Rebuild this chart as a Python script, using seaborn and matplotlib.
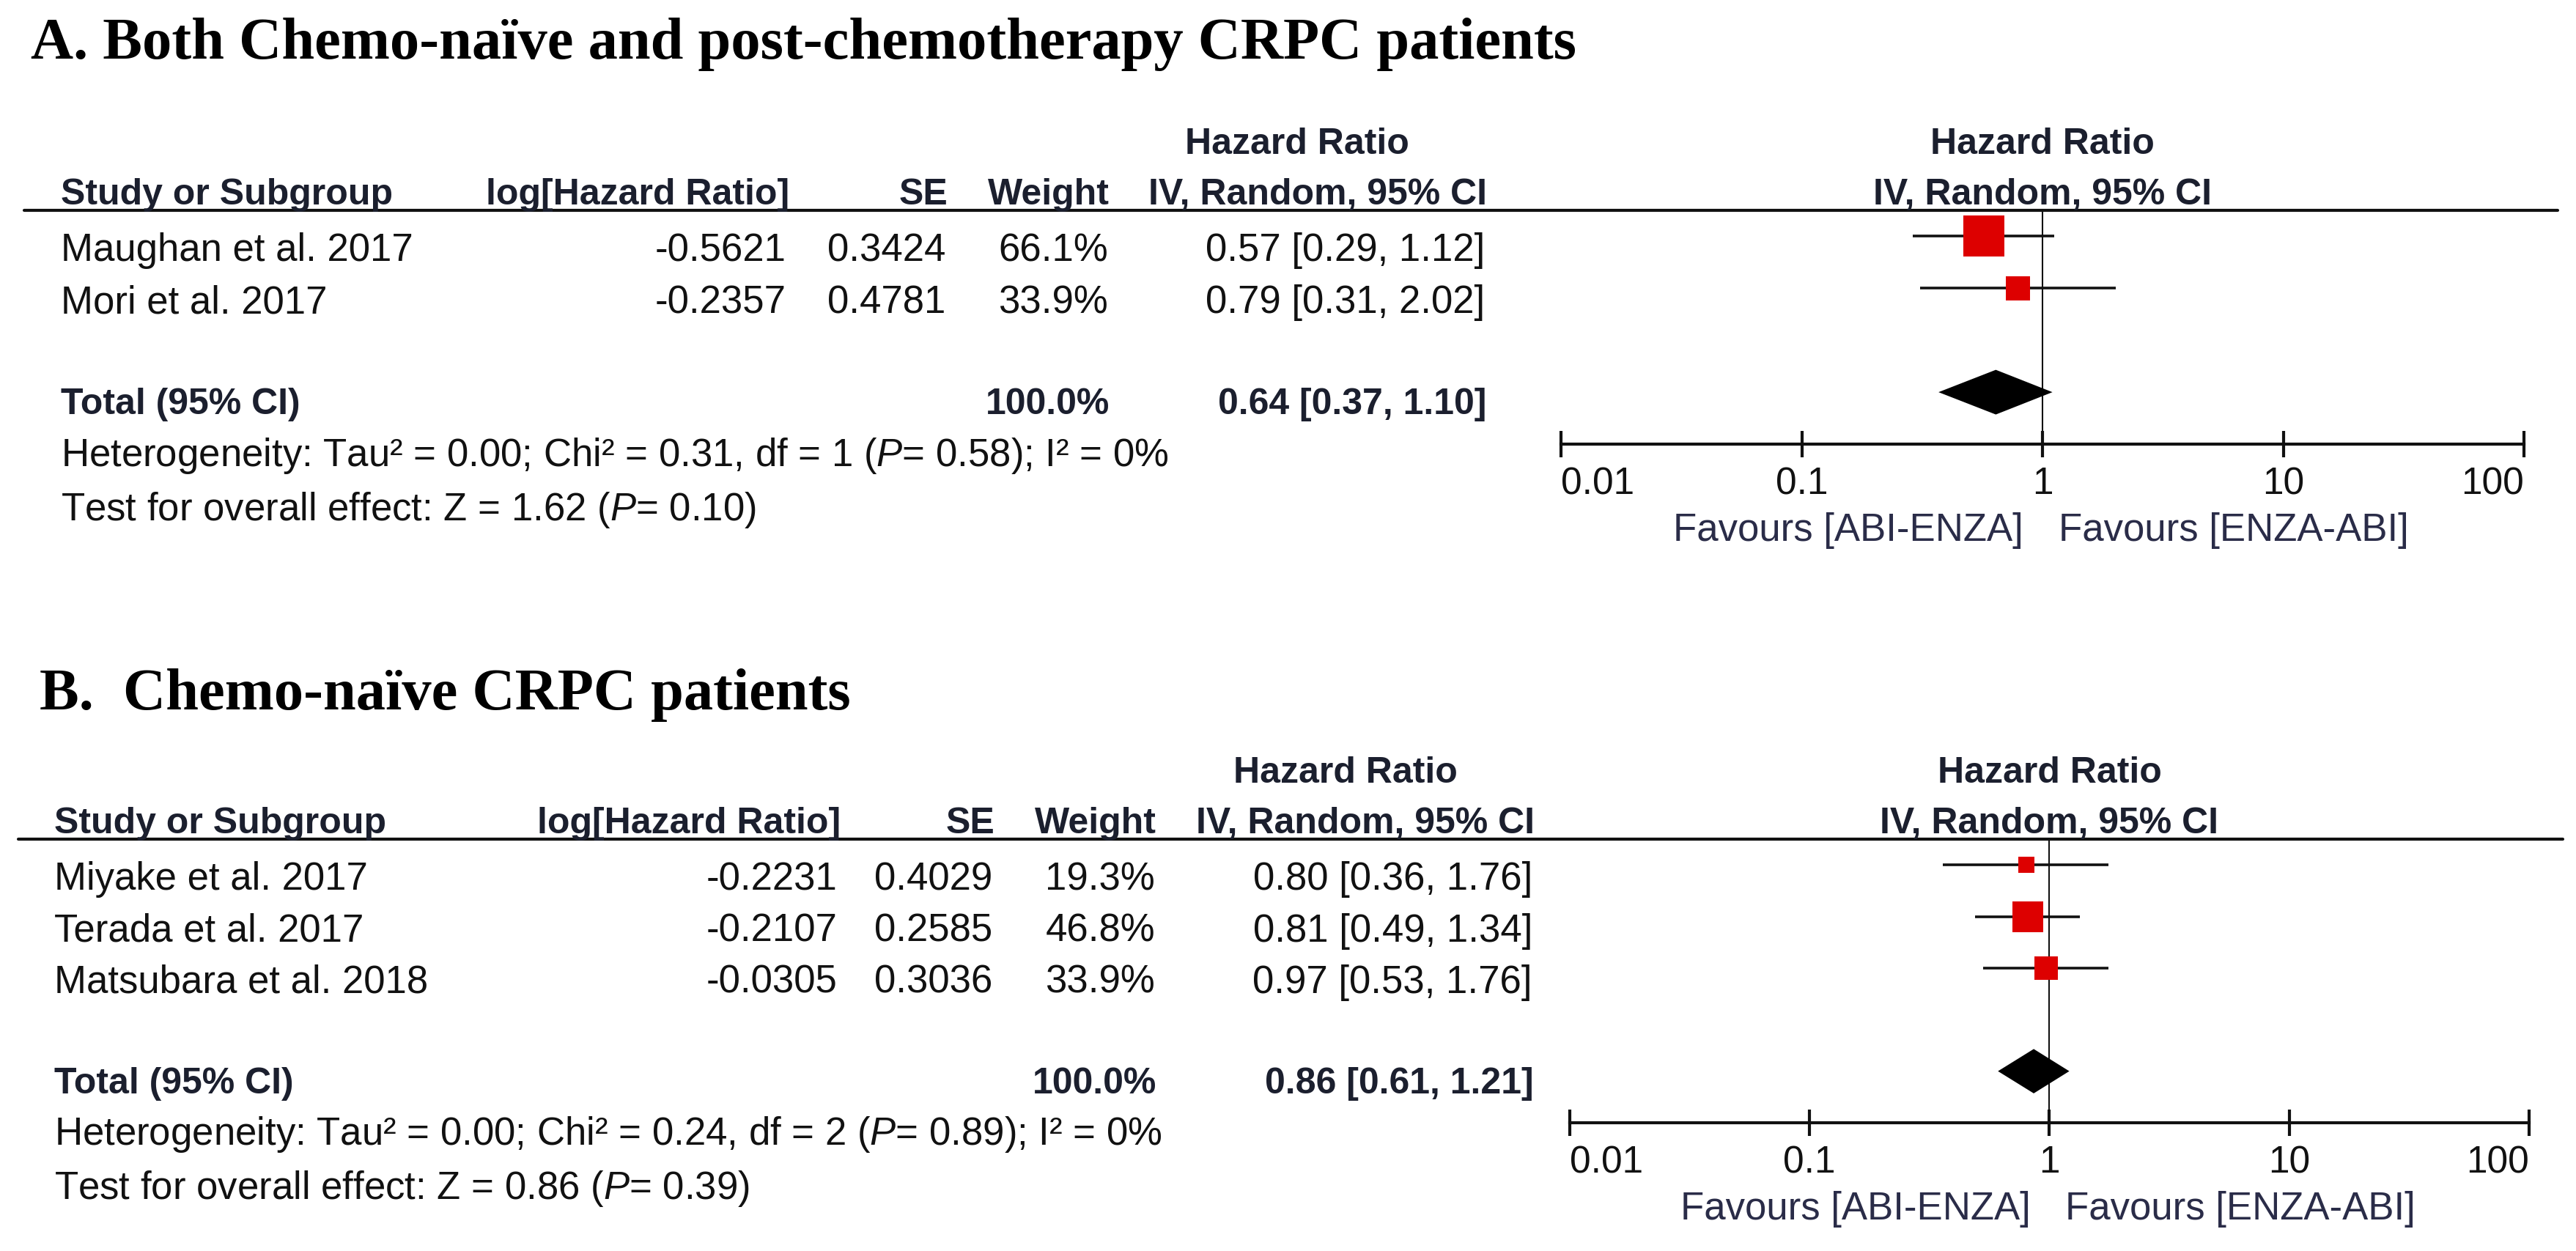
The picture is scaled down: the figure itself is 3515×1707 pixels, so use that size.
import matplotlib
matplotlib.use("Agg")
import numpy as np
import pandas as pd
import matplotlib.pyplot as plt
import seaborn as sns

# ---- data: panel A (chemo-naive + post-chemo) ----
studies_a = ["Maughan et al. 2017", "Mori et al. 2017"]
log_hr_a = [-0.5621, -0.2357]
se_a = [0.3424, 0.4781]
weight_a = [66.1, 33.9]
hr_a = [0.57, 0.79]
ci_low_a = [0.29, 0.31]
ci_high_a = [1.12, 2.02]
total_a = [0.64, 0.37, 1.10]
het_a = "Heterogeneity: Tau² = 0.00; Chi² = 0.31, df = 1 ($P$= 0.58); I² = 0%"
effect_a = "Test for overall effect: Z = 1.62 ($P$= 0.10)"

# ---- data: panel B (chemo-naive) ----
studies_b = ["Miyake et al. 2017", "Terada et al. 2017", "Matsubara et al. 2018"]
log_hr_b = [-0.2231, -0.2107, -0.0305]
se_b = [0.4029, 0.2585, 0.3036]
weight_b = [19.3, 46.8, 33.9]
hr_b = [0.80, 0.81, 0.97]
ci_low_b = [0.36, 0.49, 0.53]
ci_high_b = [1.76, 1.34, 1.76]
total_b = [0.86, 0.61, 1.21]
het_b = "Heterogeneity: Tau² = 0.00; Chi² = 0.24, df = 2 ($P$= 0.89); I² = 0%"
effect_b = "Test for overall effect: Z = 0.86 ($P$= 0.39)"

axis_ticks = [0.01, 0.1, 1, 10, 100]
tick_labels = ["0.01", "0.1", "1", "10", "100"]
favours = ["Favours [ABI-ENZA]", "Favours [ENZA-ABI]"]
titles = ["A. Both Chemo-naïve and post-chemotherapy CRPC patients",
          "B.  Chemo-naïve CRPC patients"]

W, H = 3516, 1708
RED = "#dd0000"
TXT = "#111111"
HEAD = "#1b1f2e"
FAV = "#2a2c48"

sns.set_theme(style="white")
plt.rcParams["font.family"] = ["Liberation Sans", "DejaVu Sans"]
plt.rcParams["mathtext.fontset"] = "custom"
plt.rcParams["mathtext.rm"] = "Liberation Sans"
plt.rcParams["mathtext.it"] = "Liberation Sans:italic"

# pixel layout for each panel
layout_a = dict(title_x=42, title_y=80, head_y=288, axis_y=607, line_x0=33, line_x1=3490,
                study_x=83, loghr_x=1073, se_x=1290, weight_x=1512, hr_x=2026, hr_head_x=1770,
                f_x0=2130, f_x1=3444)
layout_b = dict(title_x=54, title_y=968, head_y=1146, axis_y=1533, line_x0=25, line_x1=3497,
                study_x=74, loghr_x=1143, se_x=1354, weight_x=1576, hr_x=2091, hr_head_x=1836,
                f_x0=2142, f_x1=3451)


def draw_panel(fig, bg, title, df, total, het, effect, L):
    n = len(df)
    row_h = (L['axis_y'] - L['head_y']) / (n + 2.5)
    reg = dict(fontsize=38, color=TXT, va='baseline')
    bold = dict(fontsize=36, color=HEAD, va='baseline', fontweight='bold')

    bg.text(L['title_x'], L['title_y'], title, fontsize=58, fontweight='bold',
            family='Liberation Serif', color='black', va='baseline')

    # header
    bg.plot([L['line_x0'], L['line_x1']], [L['head_y'], L['head_y']], color='#111111', lw=3)
    hy = L['head_y'] - 9
    bg.text(L['study_x'], hy, "Study or Subgroup", ha='left', **bold)
    bg.text(L['loghr_x'] + 4, hy, "log[Hazard Ratio]", ha='right', **bold)
    bg.text(L['se_x'] + 3, hy, "SE", ha='right', **bold)
    bg.text(L['weight_x'] + 2, hy, "Weight", ha='right', **bold)
    bg.text(L['hr_x'] + 3, hy, "IV, Random, 95% CI", ha='right', **bold)
    bg.text(L['hr_head_x'], L['head_y'] - 78, "Hazard Ratio", ha='center', **bold)
    mid = L['f_x0'] + (L['f_x1'] - L['f_x0']) / 2
    bg.text(mid, L['head_y'] - 78, "Hazard Ratio", ha='center', **bold)
    bg.text(mid, hy, "IV, Random, 95% CI", ha='center', **bold)

    # study rows
    for _, r in df.iterrows():
        y = L['head_y'] + (r['row'] + 0.5) * row_h + 33
        bg.text(L['study_x'], y, r['study'], ha='left', **reg)
        bg.text(L['loghr_x'], y, f"{r['log_hr']:.4f}", ha='right', **reg)
        bg.text(L['se_x'], y, f"{r['se']:.4f}", ha='right', **reg)
        bg.text(L['weight_x'], y, f"{r['weight']:.1f}%", ha='right', **reg)
        bg.text(L['hr_x'], y, f"{r['hr']:.2f} [{r['lo']:.2f}, {r['hi']:.2f}]", ha='right', **reg)

    ty = L['head_y'] + (n + 1.5) * row_h + 29
    bg.text(L['study_x'], ty, "Total (95% CI)", ha='left', **bold)
    bg.text(L['weight_x'] + 2, ty, f"{sum(df['weight']):.1f}%", ha='right', **bold)
    bg.text(L['hr_x'] + 2, ty, f"{total[0]:.2f} [{total[1]:.2f}, {total[2]:.2f}]", ha='right', **bold)
    bg.text(L['study_x'], L['axis_y'] + 29, het, ha='left', **reg)
    bg.text(L['study_x'], L['axis_y'] + 103, effect, ha='left', **reg)

    # forest plot axes
    ax = fig.add_axes([L['f_x0'] / W, 1 - L['axis_y'] / H,
                       (L['f_x1'] - L['f_x0']) / W, (L['axis_y'] - L['head_y']) / H])
    ax.patch.set_alpha(0)
    ax.set_xscale('log')
    ax.axvline(1, color='#111111', lw=1.5, zorder=1)
    ax.hlines(df['row'], df['lo'], df['hi'], color='#111111', lw=2.6, zorder=2)
    side_pt = (8 + 0.726 * df['weight']) * 72 / 100
    sns.scatterplot(data=df, x='hr', y='row', marker='s', s=side_pt ** 2, color=RED,
                    linewidth=0, edgecolor='none', legend=False, zorder=3, ax=ax)
    yt = n + 1
    dh = 0.43
    ax.fill([total[1], total[0], total[2], total[0]], [yt, yt - dh, yt, yt + dh],
            color='black', lw=0, zorder=3)

    ax.set_xlim(0.01, 100)
    ax.set_ylim(n + 2, -0.5)
    ax.set_xticks(axis_ticks, tick_labels)
    ax.minorticks_off()
    ax.set_yticks([])
    ax.set_xlabel('')
    ax.set_ylabel('')
    for s in ['top', 'left', 'right']:
        ax.spines[s].set_visible(False)
    ax.spines['bottom'].set_linewidth(3)
    ax.spines['bottom'].set_color('#111111')
    ax.tick_params(axis='x', direction='inout', length=26, width=3, colors='#111111',
                   labelsize=37, pad=8, bottom=True)
    labels = ax.get_xticklabels()
    labels[0].set_ha('left')
    labels[-1].set_ha('right')

    x1 = L['f_x0'] + (L['f_x1'] - L['f_x0']) / 2
    fav = dict(reg, color=FAV)
    bg.text(x1 - 26, L['axis_y'] + 131, favours[0], ha='right', **fav)
    bg.text(x1 + 22, L['axis_y'] + 131, favours[1], ha='left', **fav)


df_a = pd.DataFrame({'study': studies_a, 'log_hr': log_hr_a, 'se': se_a, 'weight': weight_a,
                     'hr': hr_a, 'lo': ci_low_a, 'hi': ci_high_a})
df_a['row'] = np.arange(len(df_a))
df_b = pd.DataFrame({'study': studies_b, 'log_hr': log_hr_b, 'se': se_b, 'weight': weight_b,
                     'hr': hr_b, 'lo': ci_low_b, 'hi': ci_high_b})
df_b['row'] = np.arange(len(df_b))

fig = plt.figure(figsize=(W / 100, H / 100), dpi=100)
fig.patch.set_facecolor('white')
bg = fig.add_axes([0, 0, 1, 1])
bg.set_xlim(0, W)
bg.set_ylim(H, 0)
bg.axis('off')
bg.patch.set_alpha(0)

draw_panel(fig, bg, titles[0], df_a, total_a, het_a, effect_a, layout_a)
draw_panel(fig, bg, titles[1], df_b, total_b, het_b, effect_b, layout_b)

fig.savefig('out.png', dpi=100, facecolor='white')
